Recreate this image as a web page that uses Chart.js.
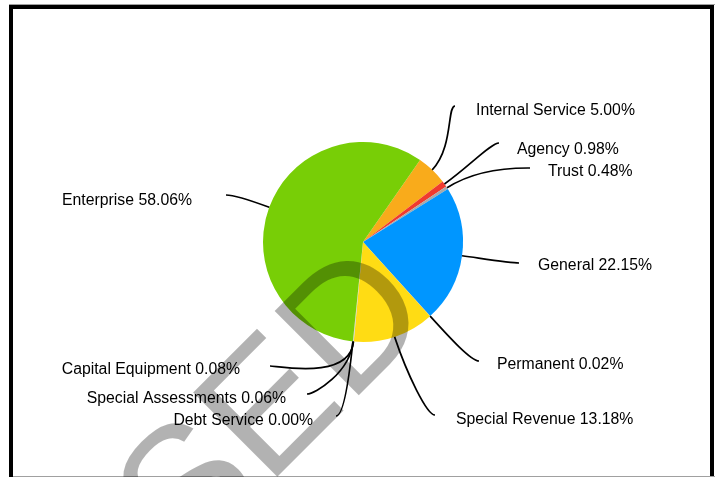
<!DOCTYPE html>
<html>
<head>
<meta charset="utf-8">
<title>Fund Types</title>
<script src="https://cdn.jsdelivr.net/npm/chart.js@4.4.1/dist/chart.umd.min.js"></script>
<style>
  html, body { margin: 0; padding: 0; background: #fff; overflow: hidden; }
  body { width: 715px; height: 477px; position: relative; }
  .frame { position: absolute; left: 9px; top: 5px; width: 697px; height: 480px; border: 4px solid #000; border-bottom: none; }
  .rule-top { position: absolute; left: 9px; top: 4px; right: 0; height: 1px; background: #a0a0a0; }
  .rule-bottom { position: absolute; left: 13px; top: 476px; right: 0; height: 1px; background: #a0a0a0; }
  #fundChart { position: absolute; left: 0; top: 0; }
</style>
</head>
<body>
<div class="rule-top"></div>
<div class="frame"></div>
<div class="rule-bottom"></div>
<canvas id="fundChart" width="715" height="477"></canvas>

<script>
// Share of total by fund type (percent), clockwise from Internal Service
const categories = ['Internal Service', 'Agency', 'Trust', 'General', 'Permanent',
                    'Special Revenue', 'Capital Equipment', 'Special Assessments',
                    'Debt Service', 'Enterprise'];
const shares = [5.00, 0.98, 0.48, 22.15, 0.02, 13.18, 0.08, 0.06, 0.00, 58.06];

const sliceColors = ['#F9AB1B', '#F03A2E', '#A9A9A9', '#0096FF', '#8E6BD0',
                     '#FFDC14', '#C9C9C9', '#C9C9C9', '#C9C9C9', '#78CE06'];

// callout placement relative to the pie centre: [line end x, line end y, text x, text y]
const calloutOffsets = [
    [92, -136, 113, -131.5],
    [136, -99, 154, -92.5],
    [167, -74, 185, -70.5],
    [156, 21, 175, 23.5],
    [116, 119, 134, 122.5],
    [72, 173, 93, 177.5],
    [-93, 124, -123, 127.5],
    [-56, 152, -77, 156.5],
    [-27, 174, -50, 178.5],
    [-137, -47, -171, -41.5]
];

const LABEL_FONT = '15.8px "Liberation Sans", Arial, sans-serif';

// leader lines + labels for every slice
const callouts = {
    id: 'callouts',
    afterDatasetsDraw(chart) {
        const ctx = chart.ctx;
        const meta = chart.getDatasetMeta(0);
        ctx.save();
        ctx.strokeStyle = '#000';
        ctx.lineWidth = 1.7;
        ctx.fillStyle = '#000';
        ctx.font = LABEL_FONT;
        ctx.textBaseline = 'middle';
        meta.data.forEach((arc, i) => {
            const mid = (arc.startAngle + arc.endAngle) / 2;
            const r = arc.outerRadius;
            const x0 = arc.x + Math.cos(mid) * r;
            const y0 = arc.y + Math.sin(mid) * r;
            const [ex, ey, tx, ty] = calloutOffsets[i];
            const x3 = arc.x + ex, y3 = arc.y + ey;
            const side = tx > ex ? 1 : -1;
            const reach = Math.hypot(x3 - x0, y3 - y0) * 0.45;

            ctx.beginPath();
            ctx.moveTo(x0, y0);
            ctx.bezierCurveTo(x0 + Math.cos(mid) * reach, y0 + Math.sin(mid) * reach,
                              x3 - side * 8, y3, x3, y3);
            ctx.stroke();

            ctx.textAlign = side > 0 ? 'left' : 'right';
            ctx.fillText(categories[i] + ' ' + shares[i].toFixed(2) + '%', arc.x + tx, arc.y + ty);
        });
        ctx.restore();
    }
};

// big diagonal stamp over everything
const stamp = {
    id: 'stamp',
    afterDraw(chart) {
        const ctx = chart.ctx;
        ctx.save();
        ctx.translate(358, 396);
        ctx.rotate(-Math.PI / 4);
        ctx.font = '173px "Liberation Sans", Arial, sans-serif';
        ctx.fillStyle = 'rgba(0, 0, 0, 0.3)';
        ctx.textBaseline = 'alphabetic';
        const lead = ctx.measureText('USE').width;
        ctx.fillText('USED', -lead - 13, 0);
        ctx.restore();
    }
};

document.addEventListener('DOMContentLoaded', () => {
    const ctx = document.getElementById('fundChart').getContext('2d');
    new Chart(ctx, {
        type: 'pie',
        data: {
            labels: categories,
            datasets: [{
                data: shares,
                backgroundColor: sliceColors,
                borderWidth: 0,
                hoverOffset: 0,
                offset: 0
            }]
        },
        options: {
            responsive: false,
            animation: false,
            events: [],
            rotation: 34.8,
            layout: {
                padding: { left: 263, right: 252, top: 142, bottom: 135 }
            },
            plugins: {
                legend: { display: false },
                tooltip: { enabled: false },
                title: { display: false }
            }
        },
        plugins: [callouts, stamp]
    });
});
</script>
</body>
</html>
